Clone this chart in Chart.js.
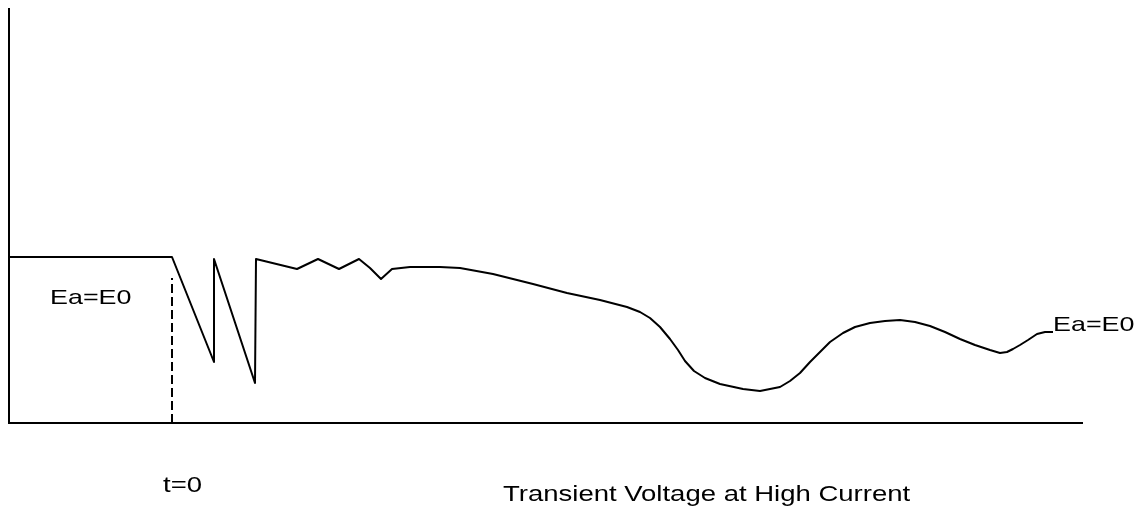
<!DOCTYPE html>
<html>
<head>
<meta charset="utf-8">
<script src="https://cdn.jsdelivr.net/npm/chart.js@4/dist/chart.umd.min.js"></script>
<style>
  html, body { margin: 0; padding: 0; background: #fff; }
  #wrap { width: 1140px; height: 516px; position: relative; }
</style>
</head>
<body>
<div id="wrap"><canvas id="c"></canvas></div>
<script>
// time (t=0 at the switching instant) and terminal voltage, arbitrary units
const times = [-163, 0, 42, 42, 83, 84, 125, 146, 167, 187, 198, 209, 220, 238, 268, 288,
  321, 361, 395, 428, 455, 468, 478, 488, 498, 506, 513, 522, 533, 548, 571, 588,
  608, 618, 628, 638, 648, 658, 671, 683, 698, 713, 728, 743, 758, 773, 788, 803,
  818, 828, 835, 841, 848, 856, 865, 873, 881];
const volts = [166, 166, 61, 164, 40, 164, 154, 164, 154, 164, 155, 144, 154, 156, 156, 155,
  149, 139, 130, 123, 116, 111, 105, 96, 84, 73, 62, 52, 45, 39, 34, 32,
  36, 42, 50, 61, 71, 81, 90, 96, 100, 102, 103, 101, 97, 91, 84, 78,
  73, 70, 71, 74, 78, 83, 89, 91, 91];

// dashed marker at t=0
const markerTimes = [0, 0];
const markerVolts = [0, 145];

const xRange = [-163, 911];
const yRange = [0, 415];

const black = '#000';
const FONT = '"Liberation Sans", Arial, sans-serif';

// the scanned original has horizontally stretched lettering
function wideText(ctx, text, x, y, size, stretch) {
  ctx.save();
  ctx.font = size + 'px ' + FONT;
  ctx.translate(x, y);
  ctx.scale(stretch, 1);
  ctx.fillText(text, 0, 0);
  ctx.restore();
}

const textPlugin = {
  id: 'labels',
  afterDraw(chart) {
    const ctx = chart.ctx;
    const x = chart.scales.x, y = chart.scales.y;
    const bottom = chart.chartArea.bottom;
    ctx.save();
    ctx.fillStyle = black;
    ctx.textBaseline = 'alphabetic';
    ctx.textAlign = 'left';
    wideText(ctx, 'Ea=E0', x.getPixelForValue(-122), y.getPixelForValue(119), 21, 1.28);
    wideText(ctx, 'Ea=E0', x.getPixelForValue(881), y.getPixelForValue(92), 21, 1.28);
    wideText(ctx, 't=0', x.getPixelForValue(-9), bottom + 69, 22, 1.25);
    wideText(ctx, 'Transient Voltage at High Current', 503, bottom + 78, 22, 1.25);
    ctx.restore();
  },
};

const axesPlugin = {
  id: 'axes',
  beforeDatasetsDraw(chart) {
    const { left, right, top, bottom } = chart.chartArea;
    const ctx = chart.ctx;
    ctx.save();
    ctx.strokeStyle = black;
    ctx.lineWidth = 2;
    ctx.beginPath();
    ctx.moveTo(left, top);
    ctx.lineTo(left, bottom);
    ctx.lineTo(right, bottom);
    ctx.stroke();
    ctx.restore();
  },
};

new Chart(document.getElementById('c'), {
  type: 'line',
  data: {
    datasets: [
      {
        data: times.map((t, i) => ({ x: t, y: volts[i] })),
        borderColor: black,
        borderWidth: 2,
        borderJoinStyle: 'round',
        pointRadius: 0,
        tension: 0,
      },
      {
        data: markerTimes.map((t, i) => ({ x: t, y: markerVolts[i] })),
        borderColor: black,
        borderWidth: 2,
        borderDash: [9, 4],
        pointRadius: 0,
      },
    ],
  },
  options: {
    responsive: true,
    maintainAspectRatio: false,
    animation: false,
    layout: { padding: { left: 9, top: 8, right: 57, bottom: 93 } },
    plugins: { legend: { display: false }, tooltip: { enabled: false } },
    scales: {
      x: { type: 'linear', min: xRange[0], max: xRange[1], display: false },
      y: { type: 'linear', min: yRange[0], max: yRange[1], display: false },
    },
  },
  plugins: [axesPlugin, textPlugin],
});
</script>
</body>
</html>
